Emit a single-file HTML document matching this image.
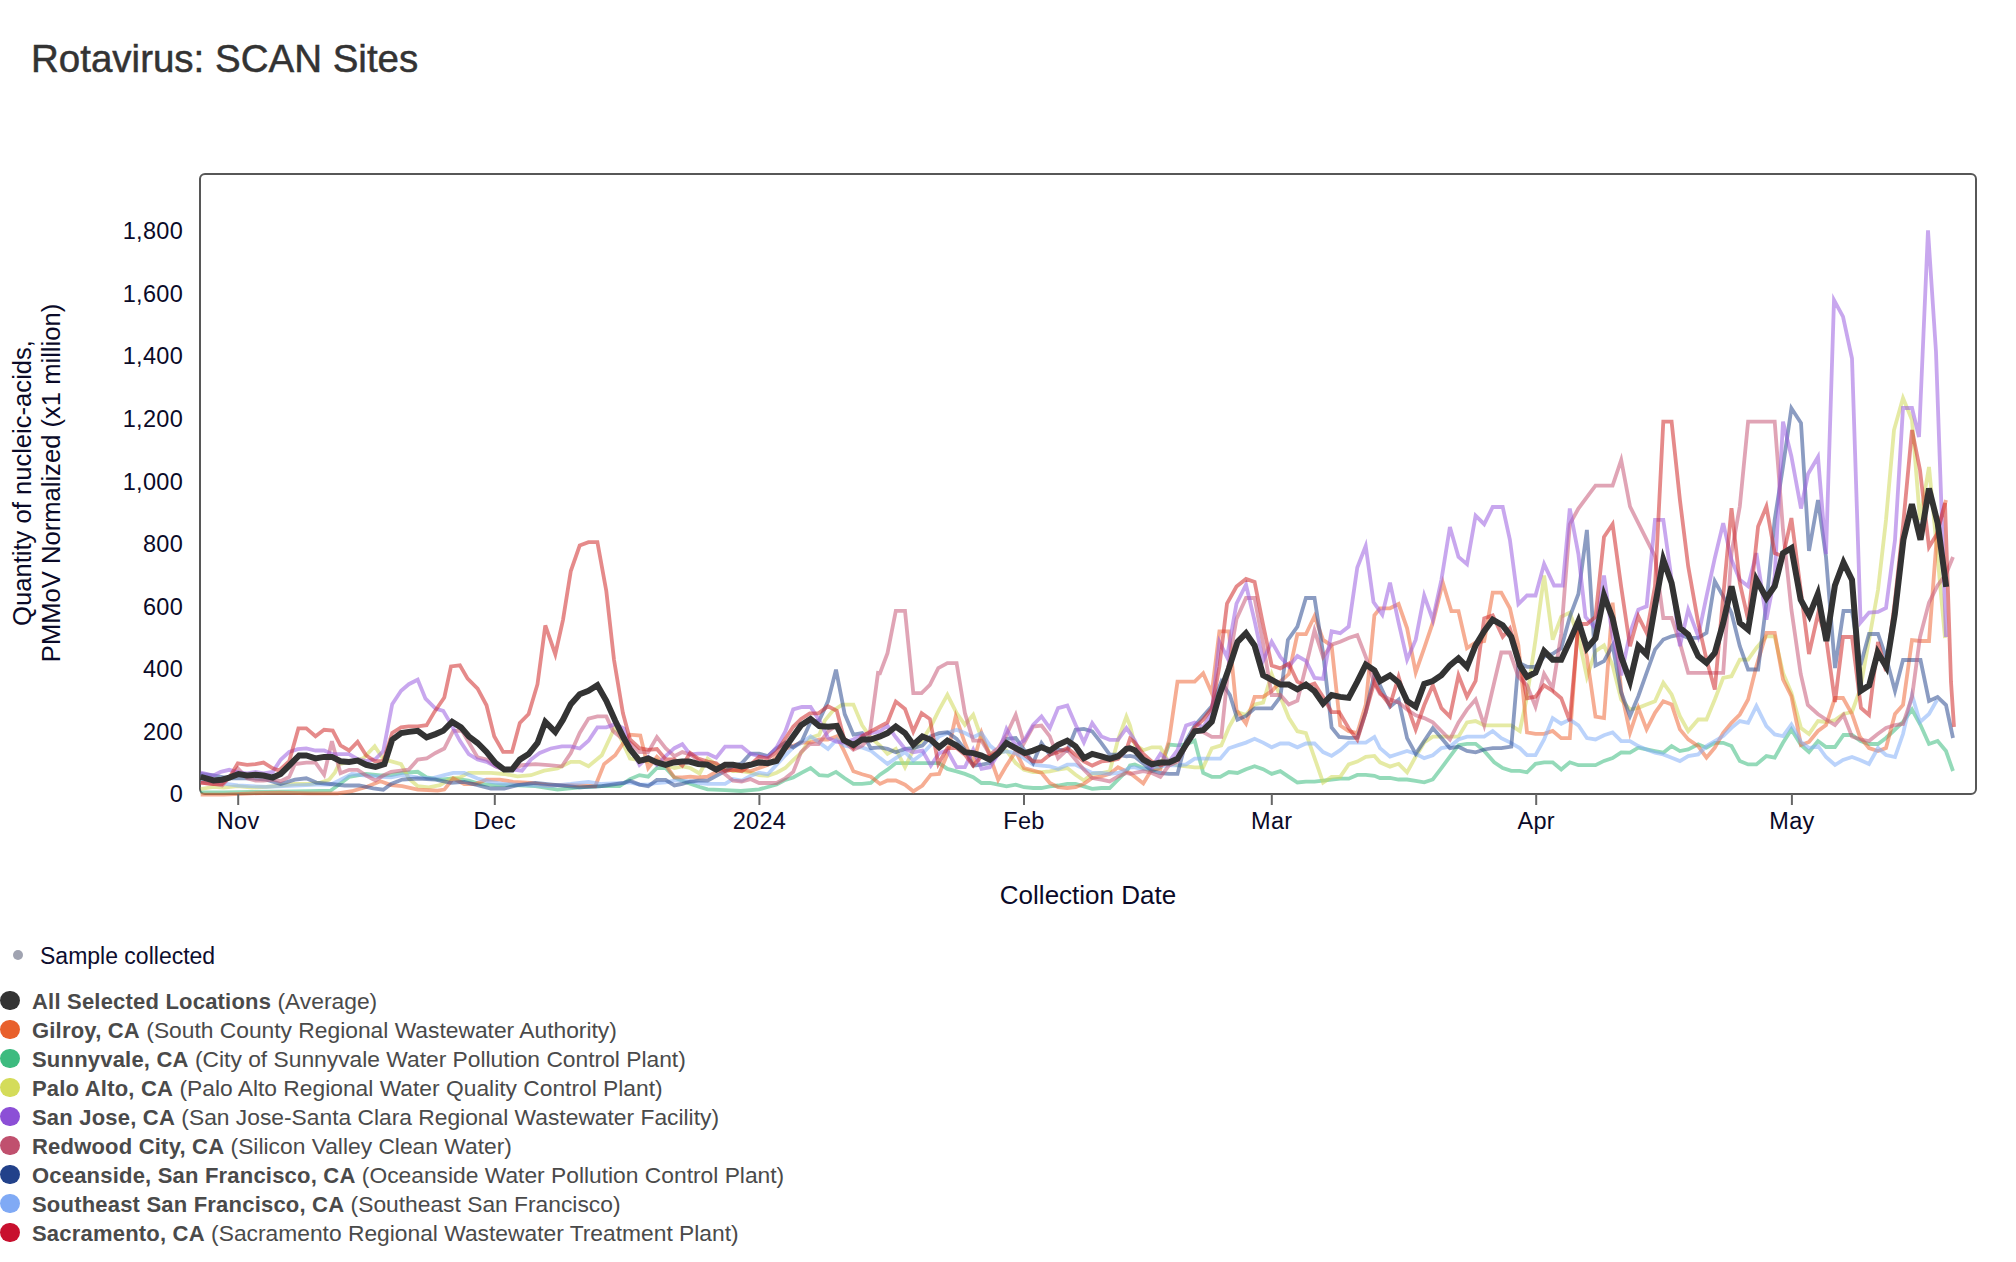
<!DOCTYPE html>
<html><head><meta charset="utf-8"><style>
html,body{margin:0;padding:0;background:#fff;width:2016px;height:1262px;overflow:hidden;position:relative;font-family:"Liberation Sans",sans-serif;}
svg{position:absolute;left:0;top:0;}
.title{position:absolute;left:31px;top:37px;font-size:38.5px;color:#333;-webkit-text-stroke:0.5px #333;white-space:nowrap;line-height:44px;}
.li{position:absolute;left:32px;height:28px;line-height:28px;font-size:22.8px;color:#4a4a4a;white-space:nowrap;}
.li b{font-weight:bold;font-size:22px;letter-spacing:0.2px;}
.dot{position:absolute;left:-32px;top:3.5px;width:19.5px;height:19.5px;border-radius:50%;}
.sc{position:absolute;left:40px;top:942px;font-size:23px;line-height:28px;color:#0d0d2e;white-space:nowrap;}
.scdot{position:absolute;left:13px;top:949.5px;width:10px;height:10px;border-radius:50%;background:#a0a3b1;}
</style></head><body>
<div class="title">Rotavirus: SCAN Sites</div>
<svg width="2016" height="1262" viewBox="0 0 2016 1262" font-family="Liberation Sans, sans-serif">
<defs><clipPath id="cp"><rect x="199" y="174" width="1778" height="624"/></clipPath></defs>
<rect x="200" y="174" width="1776" height="620" rx="5" ry="5" fill="none" stroke="#575757" stroke-width="2"/>
<g clip-path="url(#cp)">
<path d="M200.7,792.3 L223.5,792.3 L252.1,792.0 L280.6,791.6 L309.1,791.2 L330.5,790.7 L337.7,785.5 L349.1,776.9 L366.2,774.0 L380.4,775.5 L391.1,775.2 L402.2,772.9 L417.7,771.8 L426.6,777.4 L439.9,779.6 L453.2,778.5 L468.7,780.7 L479.8,784.0 L495.4,785.1 L513.1,785.1 L535.3,786.2 L557.5,789.6 L579.7,787.4 L601.8,786.2 L619.6,786.2 L630.0,779.1 L639.5,775.1 L648.2,776.7 L656.9,768.0 L665.6,768.0 L674.4,777.5 L682.3,780.7 L690.2,783.8 L699.7,787.0 L707.6,789.4 L725.1,790.2 L740.9,791.0 L759.1,789.4 L776.6,784.6 L785.3,779.9 L793.2,777.5 L801.9,772.7 L810.6,768.0 L819.3,775.1 L828.0,775.9 L836.0,771.9 L844.7,778.3 L853.4,783.8 L862.1,783.8 L870.8,783.0 L880.0,774.7 L887.5,769.7 L895.8,763.1 L905.0,763.1 L913.3,763.1 L922.4,763.1 L930.8,763.1 L939.1,763.1 L947.4,768.9 L956.6,771.4 L964.9,773.9 L973.2,777.2 L981.5,783.0 L989.9,783.0 L998.2,784.7 L1006.5,786.4 L1015.7,784.7 L1024.0,787.2 L1033.1,788.0 L1041.5,788.0 L1049.8,786.4 L1058.1,785.5 L1067.3,783.9 L1075.6,783.9 L1083.9,786.4 L1092.2,788.9 L1101.4,788.0 L1109.7,788.0 L1118.0,779.7 L1126.4,771.4 L1130.0,765.4 L1134.8,764.4 L1143.3,768.2 L1151.9,771.1 L1160.4,767.3 L1169.0,744.5 L1177.5,745.4 L1186.1,744.5 L1194.7,740.7 L1203.2,773.0 L1211.8,776.8 L1220.3,776.8 L1228.9,772.0 L1237.5,773.0 L1246.0,769.2 L1254.6,766.3 L1263.1,769.2 L1271.7,773.9 L1280.3,771.1 L1288.8,776.8 L1297.4,782.5 L1305.9,781.6 L1314.5,781.6 L1323.1,780.6 L1331.6,779.7 L1340.2,778.7 L1348.7,778.7 L1357.3,774.9 L1365.8,774.9 L1374.4,775.8 L1380.0,778.0 L1390.0,778.0 L1398.6,779.5 L1407.1,779.5 L1415.7,780.9 L1424.2,782.3 L1432.8,779.5 L1441.4,768.1 L1449.9,756.6 L1458.5,745.2 L1467.0,743.8 L1475.6,743.8 L1484.2,750.9 L1494.2,762.3 L1502.7,768.1 L1511.3,770.9 L1519.8,770.9 L1527.0,772.3 L1535.5,763.8 L1544.1,762.3 L1552.7,762.3 L1561.2,769.5 L1569.8,762.3 L1578.4,765.2 L1586.9,765.2 L1595.5,765.2 L1604.0,760.9 L1612.6,758.1 L1621.2,752.4 L1630.0,752.7 L1638.3,747.7 L1646.6,749.4 L1655.0,751.1 L1663.3,752.7 L1671.6,746.1 L1679.9,751.1 L1688.2,749.4 L1698.2,744.4 L1706.5,747.7 L1714.8,742.8 L1723.2,742.8 L1731.5,746.1 L1739.8,761.1 L1748.1,764.4 L1756.4,764.4 L1766.4,756.1 L1774.7,757.7 L1783.0,742.8 L1791.4,729.4 L1801.0,745.0 L1809.0,752.0 L1818.0,741.0 L1826.0,747.0 L1835.0,747.0 L1843.5,735.0 L1852.0,735.0 L1860.6,741.0 L1869.0,744.0 L1878.0,744.0 L1886.0,738.0 L1895.0,729.5 L1903.0,722.0 L1912.0,709.5 L1920.5,725.0 L1929.0,744.0 L1937.6,741.0 L1946.0,751.0 L1953.0,771.0" stroke="#3dbb7f" stroke-opacity="0.55" stroke-width="3.8" fill="none" stroke-linejoin="miter" stroke-miterlimit="4"/><path d="M200.7,789.0 L213.5,786.9 L223.5,787.6 L237.8,786.2 L252.1,787.6 L266.3,786.9 L280.6,785.5 L294.9,784.0 L309.1,784.0 L320.5,782.6 L329.1,779.7 L334.8,772.6 L339.1,764.1 L351.9,761.2 L363.3,758.4 L374.7,746.2 L384.7,761.2 L388.9,760.7 L401.1,764.1 L408.8,778.5 L417.7,786.2 L428.8,787.4 L439.9,785.1 L451.0,778.5 L459.9,777.4 L468.7,772.9 L479.8,772.9 L490.9,772.9 L504.2,774.0 L517.5,776.3 L530.9,775.2 L544.2,770.7 L557.5,768.5 L570.8,761.8 L579.7,761.8 L588.5,766.3 L601.8,755.2 L610.7,736.3 L615.2,726.3 L630.0,758.5 L639.5,760.1 L648.2,761.6 L656.9,760.1 L665.6,764.8 L674.4,768.0 L682.3,766.4 L690.2,768.0 L699.7,773.5 L707.6,758.5 L716.3,764.8 L725.1,768.0 L733.0,771.2 L741.7,771.2 L750.4,772.7 L759.1,775.1 L767.8,775.9 L776.6,772.7 L785.3,768.0 L793.2,760.1 L801.9,752.1 L810.6,737.9 L819.3,734.7 L824.9,720.4 L832.8,710.9 L842.3,704.6 L853.4,704.6 L862.1,725.2 L870.8,737.9 L880.0,745.6 L887.5,753.9 L895.8,748.9 L905.0,767.2 L913.3,749.7 L922.4,739.8 L930.8,726.5 L939.1,709.8 L947.4,694.8 L956.6,713.1 L964.9,724.8 L973.2,714.8 L981.5,738.1 L989.9,753.1 L998.2,753.9 L1006.5,750.6 L1015.7,763.1 L1024.0,769.7 L1033.1,772.2 L1041.5,772.2 L1049.8,771.4 L1058.1,769.7 L1067.3,768.1 L1075.6,774.7 L1083.9,780.5 L1092.2,773.9 L1101.4,773.0 L1109.7,771.4 L1118.0,739.8 L1126.4,716.5 L1130.0,725.5 L1134.8,744.5 L1143.3,750.2 L1151.9,747.3 L1160.4,747.3 L1169.0,762.5 L1177.5,765.4 L1186.1,766.3 L1194.7,767.3 L1203.2,767.3 L1211.8,748.3 L1221.3,745.4 L1228.9,727.4 L1237.5,712.1 L1246.0,715.0 L1254.6,704.5 L1263.1,702.6 L1271.7,674.1 L1280.3,696.9 L1288.8,717.8 L1297.4,731.2 L1305.9,733.1 L1314.5,757.8 L1323.1,782.5 L1331.6,776.8 L1340.2,776.8 L1348.7,764.4 L1357.3,761.6 L1365.8,756.8 L1374.4,755.9 L1380.0,762.3 L1390.0,766.6 L1398.6,763.8 L1407.1,772.3 L1415.7,756.6 L1424.2,742.4 L1432.8,736.7 L1441.4,736.7 L1449.9,736.7 L1458.5,736.7 L1467.0,722.4 L1475.6,721.0 L1484.2,725.3 L1494.2,725.3 L1502.7,725.3 L1511.3,725.3 L1519.8,731.0 L1527.0,696.7 L1535.5,639.7 L1544.1,575.5 L1552.7,639.7 L1561.2,616.9 L1569.8,612.6 L1578.4,636.8 L1586.9,676.8 L1595.5,651.1 L1604.0,645.4 L1612.6,665.4 L1621.2,699.6 L1630.0,709.5 L1638.3,707.8 L1646.6,704.5 L1655.0,701.2 L1663.3,682.9 L1671.6,694.5 L1679.9,716.1 L1688.2,731.1 L1698.2,719.5 L1706.5,719.5 L1714.8,699.5 L1723.2,677.9 L1731.5,676.2 L1739.8,659.6 L1748.1,659.6 L1756.4,647.9 L1766.4,636.3 L1774.7,636.3 L1783.0,672.9 L1791.4,692.8 L1801.0,728.0 L1809.0,734.0 L1818.0,721.0 L1826.0,722.0 L1835.0,720.0 L1843.5,714.0 L1852.0,712.0 L1860.0,690.0 L1869.0,640.0 L1878.0,590.0 L1886.0,520.0 L1894.0,430.0 L1903.0,398.0 L1912.0,420.0 L1920.0,520.0 L1929.0,467.0 L1937.0,550.0 L1945.0,638.0" stroke="#cfd85a" stroke-opacity="0.55" stroke-width="3.8" fill="none" stroke-linejoin="miter" stroke-miterlimit="4"/><path d="M200.7,794.7 L223.5,794.7 L252.1,793.3 L280.6,792.6 L309.1,793.3 L337.7,793.3 L351.9,791.2 L366.2,786.9 L380.4,781.2 L391.1,785.1 L402.2,786.2 L417.7,789.6 L437.7,790.7 L444.3,789.6 L453.2,778.5 L464.3,784.0 L475.4,784.0 L486.5,779.6 L499.8,779.6 L513.1,781.8 L530.9,782.9 L548.6,785.1 L570.8,785.1 L595.2,786.2 L604.1,764.1 L615.2,755.2 L624.0,741.9 L630.0,734.7 L640.3,735.5 L648.2,768.0 L656.9,756.9 L665.6,764.8 L674.4,777.5 L682.3,777.5 L690.2,776.7 L698.1,777.5 L707.6,776.7 L716.3,771.9 L725.1,769.6 L733.0,770.4 L741.7,769.6 L750.4,771.2 L759.1,768.0 L767.8,764.8 L776.6,756.9 L785.3,749.0 L793.2,745.8 L801.9,742.6 L810.6,742.6 L819.3,739.5 L828.0,739.5 L836.8,736.3 L843.9,750.6 L853.4,771.2 L862.1,774.3 L870.8,776.7 L880.0,783.9 L887.5,780.5 L895.8,780.5 L905.0,784.7 L913.3,791.3 L922.4,785.5 L930.8,774.7 L939.1,773.9 L947.4,753.9 L955.7,716.5 L964.9,743.1 L973.2,763.1 L981.5,733.1 L989.9,756.4 L998.2,779.7 L1006.5,765.6 L1015.7,751.4 L1024.0,768.1 L1033.1,770.5 L1041.5,773.0 L1049.8,783.0 L1058.1,787.2 L1067.3,788.0 L1075.6,787.2 L1083.9,783.9 L1092.2,778.0 L1101.4,776.4 L1109.7,773.9 L1118.0,767.2 L1126.4,771.4 L1130.0,773.0 L1134.8,776.8 L1143.3,783.5 L1151.9,769.2 L1160.4,769.2 L1169.0,740.7 L1177.5,681.7 L1186.1,681.7 L1194.7,681.7 L1203.2,673.2 L1211.8,693.1 L1219.4,631.3 L1228.9,631.3 L1236.5,710.2 L1246.0,723.5 L1254.6,696.9 L1263.1,696.9 L1271.7,691.2 L1280.3,681.7 L1288.8,674.1 L1297.4,634.2 L1305.9,634.2 L1314.5,616.1 L1323.1,639.9 L1331.6,645.6 L1340.2,725.5 L1348.7,731.2 L1357.3,733.1 L1365.8,704.5 L1374.4,615.2 L1380.0,608.3 L1390.0,608.3 L1398.6,604.0 L1407.1,628.3 L1415.7,672.5 L1424.2,648.2 L1432.8,622.6 L1442.8,582.6 L1451.4,611.2 L1458.5,611.2 L1467.0,648.2 L1475.6,642.5 L1484.2,641.1 L1492.7,592.6 L1501.3,592.6 L1509.9,608.3 L1518.4,645.4 L1527.0,732.4 L1535.5,733.8 L1544.1,733.8 L1552.7,731.0 L1561.2,738.1 L1569.8,738.1 L1578.4,619.7 L1586.9,656.8 L1595.5,716.7 L1604.0,718.1 L1612.6,602.6 L1621.2,691.0 L1630.0,732.8 L1638.3,707.8 L1646.6,729.4 L1655.0,712.8 L1663.3,701.2 L1671.6,704.5 L1679.9,729.4 L1688.2,739.4 L1698.2,746.1 L1706.5,757.7 L1714.8,747.7 L1723.2,732.8 L1731.5,722.8 L1739.8,714.5 L1748.1,699.5 L1756.4,666.2 L1766.4,632.9 L1774.7,632.9 L1783.0,679.5 L1791.4,696.2 L1801.0,745.0 L1809.0,742.0 L1818.0,731.0 L1826.0,725.0 L1835.0,698.0 L1843.0,698.0 L1852.0,714.0 L1860.0,737.0 L1869.0,748.0 L1878.0,751.0 L1886.0,748.0 L1895.0,714.0 L1903.0,705.0 L1912.0,640.0 L1920.0,641.0 L1929.0,641.0 L1937.0,534.0 L1946.0,500.0" stroke="#ee6a3a" stroke-opacity="0.55" stroke-width="3.8" fill="none" stroke-linejoin="miter" stroke-miterlimit="4"/><path d="M200.7,781.2 L216.4,782.6 L237.8,785.5 L266.3,786.9 L294.9,785.5 L316.3,784.7 L330.5,784.7 L337.7,781.2 L351.9,774.0 L366.2,775.5 L380.4,776.9 L391.1,777.4 L402.2,775.2 L417.7,777.4 L431.0,778.5 L444.3,775.2 L453.2,772.9 L464.3,772.9 L477.6,778.5 L490.9,781.8 L504.2,784.0 L526.4,785.1 L548.6,786.2 L570.8,784.0 L588.5,781.8 L601.8,784.0 L624.0,782.9 L630.0,782.3 L639.5,784.6 L648.2,784.6 L656.9,783.0 L665.6,782.3 L674.4,780.7 L682.3,780.7 L690.2,781.5 L699.7,783.0 L707.6,783.8 L716.3,783.8 L725.1,783.8 L733.0,779.1 L741.7,780.7 L750.4,775.9 L759.1,772.7 L767.8,774.3 L776.6,764.8 L785.3,755.3 L793.2,747.4 L801.9,742.6 L810.6,736.3 L819.3,742.6 L828.0,749.0 L836.8,739.5 L844.7,745.8 L853.4,747.4 L862.1,747.4 L870.8,750.6 L880.0,758.1 L887.5,763.9 L895.8,758.1 L905.0,752.2 L913.3,760.6 L922.4,753.9 L930.8,744.8 L939.1,736.4 L947.4,733.1 L956.6,729.8 L964.9,733.1 L973.2,737.3 L981.5,733.1 L989.9,745.6 L998.2,752.2 L1006.5,751.4 L1015.7,753.1 L1024.0,758.1 L1033.1,764.7 L1041.5,765.6 L1049.8,766.4 L1058.1,768.9 L1067.3,764.7 L1075.6,764.7 L1083.9,768.9 L1092.2,773.0 L1101.4,773.0 L1109.7,773.9 L1118.0,773.0 L1126.4,769.7 L1130.0,767.3 L1134.8,767.3 L1143.3,769.2 L1151.9,767.3 L1160.4,766.3 L1169.0,765.4 L1177.5,765.4 L1186.1,764.4 L1194.7,758.7 L1203.2,758.7 L1211.8,758.7 L1220.3,758.7 L1228.9,748.3 L1237.5,745.4 L1246.0,742.6 L1254.6,738.8 L1263.1,742.6 L1271.7,747.3 L1280.3,743.5 L1288.8,743.5 L1297.4,747.3 L1305.9,743.5 L1314.5,743.5 L1323.1,752.1 L1331.6,755.9 L1340.2,750.2 L1348.7,742.6 L1357.3,742.6 L1365.8,742.6 L1374.4,736.9 L1380.0,748.1 L1390.0,756.6 L1398.6,753.8 L1407.1,750.9 L1415.7,753.8 L1424.2,758.1 L1432.8,755.2 L1441.4,748.1 L1449.9,746.7 L1458.5,739.5 L1467.0,736.7 L1475.6,736.7 L1484.2,736.7 L1492.7,731.0 L1501.3,738.1 L1509.9,742.4 L1519.8,748.1 L1527.0,755.2 L1535.5,755.2 L1544.1,739.5 L1552.7,718.1 L1561.2,723.8 L1569.8,719.6 L1578.4,725.3 L1586.9,738.1 L1595.5,739.5 L1604.0,735.2 L1612.6,732.4 L1621.2,741.0 L1630.0,741.1 L1638.3,746.1 L1646.6,749.4 L1655.0,752.7 L1663.3,754.4 L1671.6,757.7 L1679.9,761.1 L1688.2,756.1 L1698.2,754.4 L1706.5,746.1 L1714.8,741.1 L1723.2,736.1 L1731.5,727.8 L1739.8,721.1 L1748.1,722.8 L1756.4,706.1 L1766.4,726.1 L1774.7,734.4 L1783.0,736.1 L1791.4,724.5 L1801.0,742.0 L1809.0,748.0 L1818.0,746.0 L1826.0,757.0 L1835.0,765.0 L1843.0,760.0 L1852.0,757.0 L1860.0,760.0 L1869.0,764.0 L1878.0,748.0 L1886.0,755.0 L1895.0,757.0 L1903.0,734.0 L1912.0,695.0 L1920.0,722.0 L1929.0,714.0 L1937.0,700.0" stroke="#84aef7" stroke-opacity="0.55" stroke-width="3.8" fill="none" stroke-linejoin="miter" stroke-miterlimit="4"/><path d="M200.7,774.0 L213.5,775.5 L229.2,778.3 L252.1,778.3 L266.3,779.7 L280.6,784.0 L294.9,779.7 L306.3,778.3 L316.3,782.6 L330.5,784.0 L344.8,785.5 L359.1,785.5 L373.3,788.3 L383.3,789.7 L391.1,784.0 L402.2,779.6 L417.7,778.5 L435.5,779.6 L451.0,782.9 L464.3,781.8 L477.6,785.1 L490.9,788.5 L504.2,788.5 L517.5,785.1 L535.3,782.9 L557.5,785.1 L579.7,787.4 L601.8,786.2 L624.0,782.9 L630.0,780.7 L639.5,784.6 L648.2,786.2 L656.9,779.9 L665.6,779.9 L674.4,785.4 L682.3,783.8 L690.2,781.5 L698.1,780.7 L707.6,780.7 L716.3,775.9 L725.1,771.2 L733.0,766.4 L741.7,763.2 L750.4,753.7 L759.1,753.7 L767.8,756.1 L776.6,748.2 L785.3,742.6 L793.2,747.4 L801.9,741.0 L810.6,722.0 L819.3,720.4 L828.0,701.4 L836.0,669.7 L844.7,714.1 L853.4,734.7 L862.1,733.1 L870.8,748.2 L880.0,747.3 L887.5,748.9 L895.8,752.2 L905.0,748.9 L913.3,748.1 L922.4,745.6 L930.8,736.4 L939.1,733.1 L947.4,732.3 L956.6,738.9 L964.9,749.7 L973.2,765.6 L981.5,764.7 L989.9,763.1 L998.2,753.9 L1006.5,738.9 L1015.7,738.1 L1024.0,749.7 L1033.1,763.1 L1041.5,743.1 L1049.8,754.7 L1058.1,749.7 L1067.3,750.6 L1075.6,729.8 L1083.9,728.9 L1092.2,731.4 L1101.4,743.1 L1109.7,754.7 L1118.0,754.7 L1126.4,756.4 L1130.0,755.9 L1134.8,756.8 L1143.3,763.5 L1151.9,771.1 L1160.4,773.0 L1169.0,773.9 L1177.5,773.9 L1186.1,740.7 L1194.7,725.5 L1203.2,715.9 L1211.8,706.4 L1221.3,681.7 L1229.9,695.0 L1237.5,719.7 L1246.0,715.9 L1254.6,708.3 L1263.1,708.3 L1271.7,708.3 L1280.3,696.9 L1287.9,639.9 L1297.4,626.6 L1305.9,598.0 L1314.5,598.0 L1323.1,653.2 L1331.6,727.4 L1339.2,736.9 L1348.7,737.8 L1357.3,737.8 L1365.8,712.1 L1374.4,674.1 L1380.0,685.3 L1390.0,706.7 L1398.6,699.6 L1407.1,738.1 L1415.7,753.8 L1424.2,741.0 L1432.8,728.1 L1441.4,738.1 L1449.9,748.1 L1458.5,746.7 L1467.0,750.9 L1475.6,752.4 L1484.2,749.5 L1492.7,748.1 L1501.3,748.1 L1511.3,746.7 L1518.4,662.5 L1527.0,666.8 L1535.5,666.8 L1544.1,656.8 L1552.7,653.9 L1561.2,648.2 L1569.8,616.9 L1578.4,594.0 L1586.9,529.9 L1595.5,665.4 L1604.0,661.1 L1612.6,645.4 L1621.2,692.5 L1630.0,716.1 L1638.3,696.2 L1646.6,672.9 L1655.0,649.6 L1663.3,639.6 L1671.6,636.3 L1679.9,634.6 L1688.2,637.9 L1698.2,637.9 L1706.5,632.9 L1714.8,581.3 L1723.2,596.3 L1731.5,613.0 L1739.8,646.2 L1748.1,669.5 L1758.1,669.5 L1766.4,603.0 L1774.7,519.8 L1783.0,466.5 L1791.4,408.3 L1801.0,423.0 L1809.0,551.0 L1818.0,500.0 L1826.0,557.0 L1835.0,668.0 L1843.5,611.0 L1852.0,611.0 L1860.6,665.0 L1869.0,634.0 L1878.0,634.0 L1886.0,657.0 L1895.0,691.0 L1903.0,660.0 L1912.0,660.0 L1920.5,660.0 L1929.0,701.0 L1937.6,697.0 L1946.0,705.0 L1953.0,738.0" stroke="#2b4a8f" stroke-opacity="0.55" stroke-width="3.8" fill="none" stroke-linejoin="miter" stroke-miterlimit="4"/><path d="M200.7,782.6 L213.5,784.0 L222.1,785.5 L237.8,768.3 L247.1,778.3 L255.6,780.5 L263.5,780.5 L272.7,779.7 L280.6,781.2 L289.2,776.9 L294.9,764.1 L306.3,762.6 L315.5,762.6 L324.1,774.8 L331.9,741.2 L340.5,773.3 L349.1,769.8 L357.6,769.8 L366.2,775.5 L375.5,780.5 L383.3,775.5 L391.1,771.8 L408.8,769.6 L417.7,759.6 L426.6,758.5 L435.5,753.0 L444.3,748.5 L453.2,730.8 L462.1,730.8 L471.0,746.3 L477.6,757.4 L486.5,759.6 L495.4,766.3 L504.2,769.6 L513.1,768.5 L522.0,765.2 L535.3,764.1 L548.6,765.2 L561.9,766.3 L570.8,753.0 L579.7,733.0 L588.5,718.6 L597.4,716.4 L606.3,716.4 L612.9,730.8 L621.8,738.5 L630.0,742.6 L639.5,752.1 L648.2,752.1 L656.9,737.1 L665.6,748.2 L674.4,756.1 L682.3,752.1 L690.2,754.5 L698.1,760.1 L707.6,764.8 L716.3,768.0 L725.1,774.3 L733.0,780.7 L741.7,781.5 L750.4,779.1 L759.1,783.0 L767.8,783.0 L776.6,783.0 L785.3,778.3 L793.2,771.9 L801.1,752.1 L809.8,744.2 L818.5,744.2 L828.0,731.5 L836.8,725.2 L845.5,742.6 L853.4,749.8 L862.1,745.8 L869.2,737.9 L878.0,672.9 L880.0,673.2 L887.5,653.2 L895.8,610.8 L905.0,610.8 L913.3,693.2 L921.6,693.2 L929.9,684.8 L938.3,668.2 L947.4,663.2 L956.6,663.2 L964.9,713.1 L973.2,740.6 L981.5,740.6 L989.9,754.7 L998.2,748.1 L1006.5,734.8 L1015.7,714.8 L1024.0,743.1 L1033.1,726.5 L1041.5,725.6 L1049.8,736.4 L1058.1,758.1 L1067.3,749.7 L1075.6,759.7 L1083.9,769.7 L1092.2,778.0 L1101.4,779.7 L1109.7,781.4 L1118.0,776.4 L1126.4,773.0 L1130.0,773.9 L1143.3,771.1 L1151.9,773.0 L1160.4,776.8 L1169.0,765.4 L1177.5,761.6 L1186.1,746.4 L1194.7,731.2 L1203.2,732.1 L1211.8,736.9 L1221.3,736.9 L1228.9,662.7 L1236.5,619.0 L1246.0,598.0 L1254.6,598.0 L1263.1,643.7 L1271.7,695.0 L1280.3,695.0 L1288.8,704.5 L1297.4,700.7 L1305.9,666.5 L1314.5,630.4 L1323.1,657.0 L1331.6,644.6 L1340.2,641.8 L1348.7,638.0 L1357.3,635.1 L1365.8,657.0 L1374.4,683.6 L1380.0,693.9 L1390.0,699.6 L1398.6,702.4 L1407.1,709.6 L1415.7,715.3 L1424.2,718.1 L1432.8,722.4 L1441.4,731.0 L1449.9,739.5 L1458.5,722.4 L1467.0,709.6 L1475.6,699.6 L1484.2,725.3 L1494.2,682.5 L1501.3,652.5 L1509.9,652.5 L1518.4,676.8 L1527.0,685.3 L1535.5,706.7 L1544.1,673.9 L1552.7,688.2 L1561.2,634.0 L1569.8,524.2 L1578.4,508.5 L1586.9,497.1 L1595.5,485.6 L1604.0,485.6 L1612.6,485.6 L1621.2,460.0 L1630.0,506.5 L1638.3,523.1 L1646.6,539.7 L1655.0,556.4 L1663.3,618.0 L1671.6,618.0 L1679.9,642.9 L1688.2,672.9 L1698.2,672.9 L1706.5,672.9 L1714.8,672.9 L1723.2,672.9 L1731.5,553.1 L1739.8,506.5 L1748.1,421.6 L1758.1,421.6 L1766.4,421.6 L1774.7,421.6 L1783.0,529.8 L1791.4,609.6 L1800.7,674.0 L1807.8,705.0 L1817.8,714.0 L1826.0,719.5 L1835.0,725.0 L1843.5,715.0 L1852.0,736.6 L1860.6,739.5 L1869.0,741.0 L1877.7,734.0 L1886.0,728.0 L1895.0,725.0 L1903.0,724.0 L1912.0,697.0 L1920.0,637.0 L1929.0,602.6 L1937.6,585.5 L1946.0,574.0 L1953.0,557.0" stroke="#c65a78" stroke-opacity="0.55" stroke-width="3.8" fill="none" stroke-linejoin="miter" stroke-miterlimit="4"/><path d="M200.7,772.6 L213.5,775.5 L220.7,771.9 L229.2,769.8 L236.4,771.9 L247.1,773.3 L255.6,771.9 L263.5,773.3 L272.7,771.9 L280.6,759.8 L289.2,751.9 L297.7,749.1 L306.3,748.4 L315.5,750.5 L324.1,750.5 L331.9,754.1 L340.5,754.1 L349.1,754.1 L357.6,759.1 L366.2,761.2 L375.5,759.1 L383.3,751.2 L392.2,704.2 L401.1,690.8 L408.8,684.2 L417.7,679.7 L425.5,698.6 L435.5,708.6 L443.2,710.8 L451.0,724.1 L459.9,740.8 L468.7,754.1 L477.6,759.6 L486.5,761.8 L495.4,766.3 L504.2,769.6 L513.1,769.6 L522.0,770.7 L530.9,759.6 L539.7,753.0 L550.8,748.5 L561.9,746.3 L570.8,746.3 L579.7,748.5 L588.5,740.8 L597.4,727.4 L606.3,727.4 L615.2,724.1 L624.0,728.6 L630.0,745.8 L639.5,764.8 L648.2,756.9 L656.9,764.8 L666.4,755.3 L674.4,748.2 L682.3,744.2 L690.2,754.5 L698.1,753.7 L707.6,753.7 L716.3,757.7 L725.1,746.6 L733.0,746.6 L741.7,746.6 L750.4,753.7 L759.1,756.1 L767.8,756.9 L776.6,747.4 L785.3,731.5 L793.2,709.4 L801.9,707.0 L810.6,707.0 L819.3,720.4 L828.0,737.9 L836.8,741.8 L844.7,742.6 L853.4,739.5 L862.1,734.7 L870.8,733.1 L880.0,731.4 L887.5,725.6 L895.8,737.3 L905.0,748.9 L913.3,752.2 L922.4,750.6 L930.8,765.6 L939.1,753.1 L947.4,750.6 L956.6,767.2 L964.9,767.2 L973.2,749.7 L981.5,768.9 L989.9,767.2 L998.2,753.9 L1006.5,728.9 L1015.7,745.6 L1024.0,740.6 L1033.1,724.8 L1041.5,716.5 L1049.8,728.1 L1058.1,708.1 L1067.3,705.6 L1075.6,724.8 L1083.9,742.3 L1092.2,723.1 L1101.4,736.4 L1109.7,739.8 L1118.0,739.8 L1126.4,728.1 L1130.0,733.1 L1134.8,740.7 L1143.3,759.7 L1151.9,767.3 L1160.4,754.0 L1169.0,761.6 L1177.5,750.2 L1186.1,725.5 L1194.7,722.6 L1203.2,727.4 L1211.8,712.1 L1219.4,641.8 L1227.0,657.0 L1236.5,603.7 L1246.0,584.7 L1254.6,620.9 L1263.1,660.8 L1271.7,641.8 L1280.3,657.0 L1288.8,666.5 L1297.4,656.0 L1305.9,660.8 L1314.5,677.9 L1323.1,678.9 L1331.6,631.3 L1340.2,633.2 L1348.7,626.6 L1357.3,567.6 L1365.7,546.0 L1373.5,602.0 L1382.3,614.6 L1390.0,582.6 L1398.6,622.6 L1407.1,659.7 L1415.7,639.7 L1424.2,595.5 L1432.8,619.7 L1441.4,579.8 L1449.9,527.0 L1458.5,557.0 L1467.0,564.1 L1475.6,515.6 L1484.2,524.2 L1492.7,507.0 L1502.7,507.0 L1509.9,539.8 L1518.4,604.0 L1527.0,595.5 L1535.5,595.5 L1544.1,564.1 L1554.1,585.5 L1562.7,585.5 L1569.8,508.5 L1578.4,554.1 L1585.5,616.9 L1595.5,628.3 L1604.0,575.5 L1612.6,636.8 L1621.2,675.3 L1630.0,632.9 L1638.3,609.6 L1646.6,606.3 L1655.0,519.8 L1663.3,519.8 L1671.6,579.7 L1679.9,646.2 L1688.2,609.6 L1698.2,636.3 L1706.5,596.3 L1714.8,558.1 L1723.2,523.1 L1731.5,559.7 L1739.8,579.7 L1748.1,586.3 L1756.4,553.1 L1766.4,619.6 L1774.7,576.4 L1783.0,421.6 L1791.4,456.5 L1801.0,508.5 L1808.0,474.0 L1818.0,457.0 L1826.0,554.0 L1834.0,300.0 L1843.0,316.6 L1852.0,358.5 L1860.6,622.5 L1869.0,612.6 L1878.0,612.0 L1886.0,608.0 L1895.0,540.0 L1903.0,408.0 L1912.0,408.0 L1919.0,437.0 L1928.0,230.4 L1936.0,352.0 L1946.0,637.0" stroke="#9b5fe0" stroke-opacity="0.55" stroke-width="3.8" fill="none" stroke-linejoin="miter" stroke-miterlimit="4"/><path d="M200.7,782.6 L213.5,784.0 L222.1,784.0 L230.7,775.5 L237.8,763.3 L247.1,764.8 L255.6,764.1 L263.5,762.6 L272.7,768.3 L279.2,770.5 L289.2,761.2 L298.4,728.4 L306.3,728.4 L315.5,736.2 L324.1,729.8 L332.7,730.5 L340.5,745.5 L349.1,750.5 L357.6,741.9 L366.2,755.5 L374.7,761.2 L383.3,761.2 L392.2,733.0 L401.1,727.4 L408.8,726.3 L417.7,726.3 L426.6,725.2 L434.4,711.9 L444.3,697.5 L451.0,666.4 L459.9,665.3 L467.6,678.6 L477.6,688.6 L486.5,705.3 L494.2,736.3 L503.1,751.9 L512.0,751.9 L519.8,723.0 L528.6,714.1 L537.5,684.2 L545.3,625.4 L555.3,654.2 L563.0,619.8 L570.8,571.0 L579.7,545.5 L588.5,542.2 L597.4,542.2 L606.3,591.0 L614.0,659.8 L622.9,713.0 L630.0,739.5 L639.5,748.2 L648.2,749.8 L656.9,749.0 L665.6,759.3 L674.4,759.3 L682.3,765.6 L690.2,752.9 L698.1,758.5 L707.6,761.6 L716.3,763.2 L725.1,771.2 L733.0,769.6 L741.7,771.2 L750.4,764.8 L759.1,756.9 L767.8,758.5 L776.6,752.1 L785.3,738.7 L793.2,726.8 L801.1,718.9 L809.8,713.3 L818.5,713.3 L828.0,706.2 L836.8,710.9 L843.9,737.9 L853.4,748.2 L862.1,736.3 L870.8,731.5 L880.0,726.5 L887.5,722.3 L895.8,701.5 L905.0,709.0 L913.3,731.4 L921.6,713.1 L929.9,719.0 L938.3,763.9 L947.4,748.1 L956.6,748.1 L964.9,754.7 L973.2,765.6 L981.5,756.4 L989.9,756.4 L998.2,751.4 L1006.5,743.1 L1015.7,749.7 L1024.0,754.7 L1033.1,761.4 L1041.5,761.4 L1049.8,754.7 L1058.1,752.2 L1067.3,748.1 L1075.6,754.7 L1083.9,761.4 L1092.2,765.6 L1101.4,761.4 L1109.7,760.6 L1118.0,758.9 L1126.4,749.7 L1130.0,738.8 L1134.8,742.6 L1143.3,754.0 L1151.9,761.6 L1160.4,765.4 L1169.0,762.5 L1177.5,759.7 L1186.1,745.4 L1194.7,727.4 L1203.2,719.7 L1211.8,708.3 L1219.4,666.5 L1227.0,603.7 L1236.5,586.6 L1246.0,579.0 L1254.6,581.9 L1263.1,624.7 L1271.7,665.5 L1280.3,668.4 L1288.8,663.6 L1297.4,681.7 L1305.9,686.5 L1314.5,683.6 L1323.1,696.9 L1331.6,712.1 L1339.2,712.1 L1348.7,728.3 L1357.3,739.7 L1365.8,712.1 L1374.4,681.7 L1380.0,692.5 L1390.0,705.3 L1398.6,676.8 L1407.1,705.3 L1415.7,729.5 L1424.2,705.3 L1432.8,685.3 L1441.4,708.1 L1449.9,716.7 L1458.5,675.3 L1467.0,696.7 L1475.6,681.0 L1484.2,618.3 L1492.7,615.4 L1502.7,636.8 L1509.9,628.3 L1518.4,656.8 L1527.0,698.2 L1535.5,696.7 L1544.1,685.3 L1552.7,691.0 L1561.2,698.2 L1569.8,721.0 L1578.4,624.0 L1586.9,624.0 L1595.5,616.9 L1604.0,537.0 L1612.6,524.2 L1621.2,586.9 L1630.0,646.2 L1638.3,616.3 L1646.6,632.9 L1655.0,586.3 L1663.3,421.6 L1671.6,421.6 L1679.9,499.8 L1688.2,566.4 L1698.2,622.9 L1706.5,659.6 L1714.8,689.5 L1723.2,596.3 L1731.5,508.1 L1739.8,583.0 L1748.1,619.6 L1758.1,526.4 L1766.4,506.5 L1774.7,553.1 L1783.0,556.4 L1791.4,518.1 L1800.7,590.0 L1809.0,654.0 L1818.0,614.0 L1826.0,637.0 L1835.0,702.0 L1843.0,637.0 L1852.0,637.0 L1861.0,708.0 L1869.0,715.0 L1878.0,642.0 L1886.0,671.0 L1895.0,600.0 L1903.0,526.0 L1912.0,430.0 L1920.0,470.0 L1929.0,547.0 L1937.0,534.0 L1945.0,503.0 L1951.0,682.0 L1954.0,727.0" stroke="#d02a2a" stroke-opacity="0.55" stroke-width="3.8" fill="none" stroke-linejoin="miter" stroke-miterlimit="4"/><path d="M200.7,776.9 L213.5,780.5 L222.1,779.7 L229.2,777.6 L238.5,774.0 L247.1,775.5 L255.6,774.8 L263.5,775.5 L272.7,777.6 L280.6,774.0 L289.2,765.5 L299.1,755.5 L306.3,755.5 L315.5,758.4 L324.1,756.9 L331.9,756.9 L340.5,761.2 L349.1,761.9 L357.6,760.5 L366.2,764.8 L375.5,766.9 L384.4,764.1 L392.2,739.7 L401.1,733.0 L408.8,731.9 L417.7,730.8 L426.6,737.4 L435.5,734.1 L443.2,730.8 L452.1,721.9 L461.0,727.4 L468.7,736.3 L477.6,743.0 L486.5,751.9 L495.4,762.9 L504.2,769.6 L512.0,769.6 L519.8,759.6 L528.6,754.1 L537.5,743.0 L545.3,721.9 L555.3,731.9 L563.0,719.7 L570.8,704.2 L579.7,694.2 L588.5,690.8 L597.4,685.3 L606.3,700.8 L615.2,720.8 L624.0,738.5 L630.0,749.0 L639.5,760.9 L648.2,758.5 L656.9,762.4 L665.6,764.8 L673.6,762.4 L682.3,761.6 L689.4,761.6 L698.1,764.0 L707.6,764.8 L716.3,769.6 L725.1,764.8 L733.0,764.8 L741.7,766.4 L750.4,764.8 L759.1,762.4 L767.8,763.2 L776.6,760.9 L785.3,747.4 L793.2,736.3 L801.1,725.2 L810.6,718.9 L819.3,726.0 L828.0,726.8 L836.8,726.0 L843.9,740.3 L853.4,745.0 L862.1,739.5 L870.8,739.5 L880.0,736.4 L887.5,733.1 L895.8,726.5 L905.0,733.1 L913.3,744.8 L922.4,736.4 L930.8,739.8 L939.1,747.3 L947.4,740.6 L956.6,745.6 L964.9,752.2 L973.2,753.1 L981.5,755.6 L989.9,759.7 L998.2,753.1 L1006.5,743.1 L1015.7,748.1 L1024.8,753.1 L1033.1,750.6 L1041.5,747.3 L1049.8,750.6 L1058.1,744.8 L1067.3,740.6 L1075.6,746.4 L1083.9,758.1 L1092.2,753.9 L1101.4,756.4 L1109.7,758.9 L1118.0,756.4 L1126.4,748.9 L1130.0,748.3 L1134.8,750.2 L1143.3,759.7 L1151.9,764.4 L1160.4,762.5 L1169.0,762.5 L1177.5,758.7 L1186.1,744.5 L1194.7,731.2 L1203.2,730.2 L1211.8,721.6 L1219.4,695.0 L1228.9,668.4 L1237.5,641.8 L1246.0,633.2 L1254.6,645.6 L1263.1,675.1 L1271.7,679.8 L1280.3,684.6 L1288.8,684.6 L1297.4,689.3 L1305.9,684.6 L1314.5,691.2 L1323.1,703.6 L1331.6,695.0 L1340.2,696.9 L1348.7,697.9 L1357.3,681.7 L1365.8,664.6 L1374.4,670.3 L1380.0,681.0 L1390.0,675.3 L1398.6,682.5 L1407.1,701.0 L1415.7,706.7 L1424.2,683.9 L1432.8,681.0 L1441.4,675.3 L1449.9,665.4 L1458.5,658.2 L1467.0,666.8 L1475.6,645.4 L1484.2,631.1 L1492.7,619.7 L1502.7,625.4 L1511.3,636.8 L1519.8,665.4 L1527.0,676.8 L1535.5,672.5 L1544.1,651.1 L1552.7,659.7 L1561.2,659.7 L1569.8,641.1 L1578.4,621.1 L1586.9,648.2 L1595.5,638.3 L1604.0,595.5 L1612.6,618.3 L1621.2,656.8 L1630.0,681.2 L1638.3,646.2 L1646.6,654.6 L1655.0,606.3 L1663.3,559.7 L1671.6,583.0 L1679.9,627.9 L1688.2,634.6 L1698.2,656.2 L1706.5,662.9 L1714.8,652.9 L1723.2,622.9 L1731.5,586.3 L1739.8,622.9 L1748.1,629.6 L1756.4,579.7 L1766.4,598.0 L1774.7,586.3 L1783.0,553.1 L1791.4,548.1 L1800.7,599.7 L1809.3,615.4 L1817.8,594.0 L1826.4,641.0 L1834.9,585.5 L1843.5,562.6 L1852.0,579.8 L1860.6,691.0 L1869.2,685.3 L1877.7,652.5 L1886.3,666.8 L1894.8,614.0 L1903.4,539.8 L1911.9,504.2 L1920.5,539.8 L1929.0,488.5 L1937.6,522.7 L1946.2,586.9" stroke="#333" stroke-width="6" fill="none" stroke-linejoin="miter" stroke-miterlimit="4"/>
</g>
<g font-size="23.5" fill="#0a0a28" letter-spacing="0.3"><text x="183" y="802.3" text-anchor="end">0</text><text x="183" y="739.7" text-anchor="end">200</text><text x="183" y="677.2" text-anchor="end">400</text><text x="183" y="614.6" text-anchor="end">600</text><text x="183" y="552.1" text-anchor="end">800</text><text x="183" y="489.5" text-anchor="end">1,000</text><text x="183" y="427.0" text-anchor="end">1,200</text><text x="183" y="364.4" text-anchor="end">1,400</text><text x="183" y="301.9" text-anchor="end">1,600</text><text x="183" y="239.3" text-anchor="end">1,800</text></g>
<g font-size="23.5" fill="#0a0a28" letter-spacing="0.3"><line x1="238.2" y1="794" x2="238.2" y2="805" stroke="#666" stroke-width="2"/><text x="238.2" y="829" text-anchor="middle">Nov</text><line x1="494.8" y1="794" x2="494.8" y2="805" stroke="#666" stroke-width="2"/><text x="494.8" y="829" text-anchor="middle">Dec</text><line x1="759.4" y1="794" x2="759.4" y2="805" stroke="#666" stroke-width="2"/><text x="759.4" y="829" text-anchor="middle">2024</text><line x1="1024" y1="794" x2="1024" y2="805" stroke="#666" stroke-width="2"/><text x="1024" y="829" text-anchor="middle">Feb</text><line x1="1271.8" y1="794" x2="1271.8" y2="805" stroke="#666" stroke-width="2"/><text x="1271.8" y="829" text-anchor="middle">Mar</text><line x1="1536.2" y1="794" x2="1536.2" y2="805" stroke="#666" stroke-width="2"/><text x="1536.2" y="829" text-anchor="middle">Apr</text><line x1="1791.9" y1="794" x2="1791.9" y2="805" stroke="#666" stroke-width="2"/><text x="1791.9" y="829" text-anchor="middle">May</text></g>
<text x="1088" y="904" font-size="26" fill="#0a0a28" text-anchor="middle">Collection Date</text>
<g font-size="25.6" fill="#0a0a28" transform="translate(0,483) rotate(-90)">
<text x="0" y="31" text-anchor="middle">Quantity of nucleic-acids,</text>
<text x="0" y="60" text-anchor="middle">PMMoV Normalized (x1 million)</text>
</g>
</svg>
<div class="scdot"></div><div class="sc">Sample collected</div>
<div class="li" style="top:987px"><span class="dot" style="background:#333333"></span><b>All Selected Locations</b> (Average)</div>
<div class="li" style="top:1016px"><span class="dot" style="background:#e8602c"></span><b>Gilroy, CA</b> (South County Regional Wastewater Authority)</div>
<div class="li" style="top:1045px"><span class="dot" style="background:#3dbb7f"></span><b>Sunnyvale, CA</b> (City of Sunnyvale Water Pollution Control Plant)</div>
<div class="li" style="top:1074px"><span class="dot" style="background:#d4dc5a"></span><b>Palo Alto, CA</b> (Palo Alto Regional Water Quality Control Plant)</div>
<div class="li" style="top:1103px"><span class="dot" style="background:#8c4fd6"></span><b>San Jose, CA</b> (San Jose-Santa Clara Regional Wastewater Facility)</div>
<div class="li" style="top:1132px"><span class="dot" style="background:#c0506e"></span><b>Redwood City, CA</b> (Silicon Valley Clean Water)</div>
<div class="li" style="top:1161px"><span class="dot" style="background:#22418a"></span><b>Oceanside, San Francisco, CA</b> (Oceanside Water Pollution Control Plant)</div>
<div class="li" style="top:1190px"><span class="dot" style="background:#80aaf5"></span><b>Southeast San Francisco, CA</b> (Southeast San Francisco)</div>
<div class="li" style="top:1219px"><span class="dot" style="background:#c8102e"></span><b>Sacramento, CA</b> (Sacramento Regional Wastewater Treatment Plant)</div>

</body></html>
